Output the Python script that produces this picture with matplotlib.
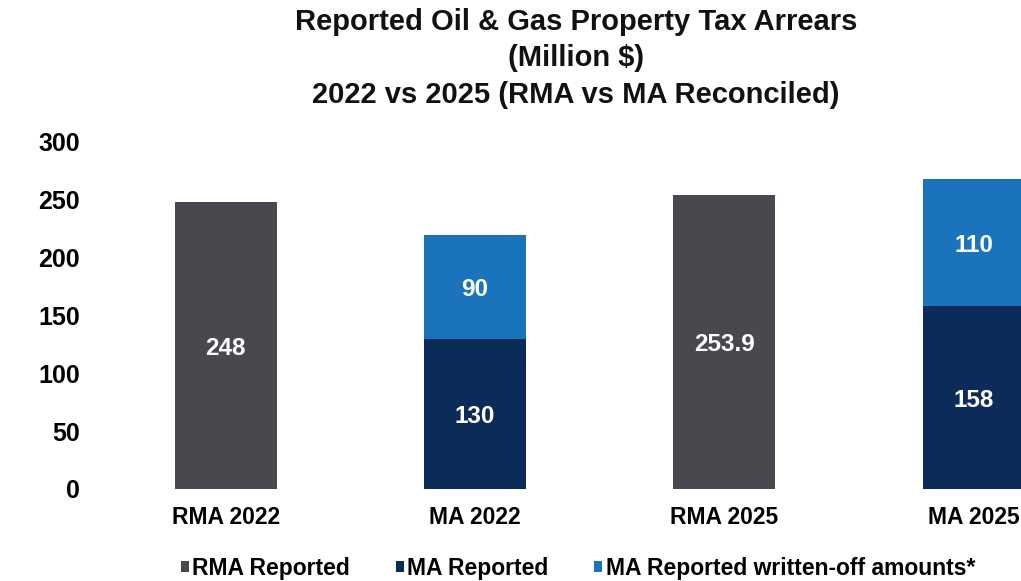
import matplotlib
matplotlib.use("Agg")
import matplotlib.pyplot as plt
from matplotlib.patches import Patch

plt.rcParams['font.family'] = ['Liberation Sans', 'DejaVu Sans']
plt.rcParams['font.weight'] = 'bold'

categories = ["RMA 2022", "MA 2022", "RMA 2025", "MA 2025"]
rma_reported = [248, 0, 253.9, 0]
ma_reported = [0, 130, 0, 158]
ma_written_off = [0, 90, 0, 110]
series_names = ["RMA Reported", "MA Reported", "MA Reported written-off amounts*"]
y_ticks = [0, 50, 100, 150, 200, 250, 300]

c_gray = "#48484e"
c_navy = "#0b2b58"
c_blue = "#1b73bb"

W, H = 1021, 581
fig = plt.figure(figsize=(W / 100, H / 100), dpi=100)
left_px, right_px, top_px, bottom_px = 101, 1021, 142, 489
ax = fig.add_axes([left_px / W, 1 - bottom_px / H,
                   (right_px - left_px) / W, (bottom_px - top_px) / H])

x = list(range(len(categories)))
width = 0.41
ax.bar(x, rma_reported, width, color=c_gray)
ax.bar(x, ma_reported, width, color=c_navy)
ax.bar(x, ma_written_off, width, bottom=ma_reported, color=c_blue)

def fmt(v):
    return f"{v:g}"

label_kw = dict(ha="center", va="center_baseline", color="white",
                fontsize=17.5, fontweight="bold")
for i in x:
    if rma_reported[i] > 0:
        ax.text(i, rma_reported[i] / 2, fmt(rma_reported[i]), **label_kw)
    if ma_reported[i] > 0:
        ax.text(i, ma_reported[i] / 2, fmt(ma_reported[i]), **label_kw)
    if ma_written_off[i] > 0:
        ax.text(i, ma_reported[i] + ma_written_off[i] / 2, fmt(ma_written_off[i]), **label_kw)

ax.set_xlim(-0.5, 3.19)
ax.set_ylim(0, 300)
ax.set_yticks(y_ticks)
ax.set_yticklabels([str(t) for t in y_ticks], fontsize=18, fontweight="bold")
ax.set_xticks(x)
ax.set_xticklabels(categories, fontsize=16.5, fontweight="bold")
ax.tick_params(axis="y", length=0, pad=15)
ax.tick_params(axis="x", length=0, pad=12)
for s in ax.spines.values():
    s.set_visible(False)

title_lines = ["Reported Oil & Gas Property Tax Arrears", "(Million $)",
               "2022 vs 2025 (RMA vs MA Reconciled)"]
for line, ypx in zip(title_lines, [22, 58, 95]):
    fig.text(576 / W, 1 - ypx / H, line, ha="center", va="center",
             fontsize=21, fontweight="bold", color="#111111")

handles = [Patch(facecolor=c_gray), Patch(facecolor=c_navy), Patch(facecolor=c_blue)]
fig.legend(handles, series_names, loc="center", bbox_to_anchor=(578 / W, 1 - 568 / H),
           ncol=3, frameon=False, handlelength=0.35, handleheight=0.35,
           handletextpad=0.15, columnspacing=2.0, prop={"weight": "bold", "size": 16.5})

fig.savefig("out.png", dpi=100, facecolor="white")
